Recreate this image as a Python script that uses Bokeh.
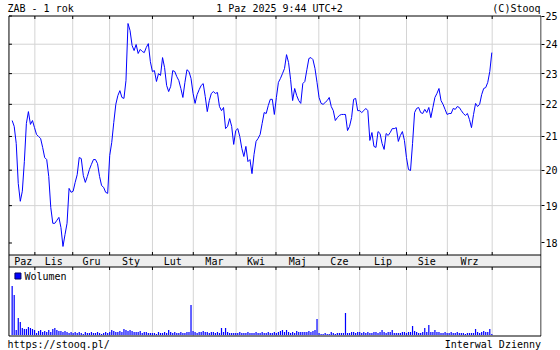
import math
from bokeh.plotting import figure
from bokeh.models import Range1d, LinearScale, FixedTicker, PrintfTickFormatter
from bokeh.core.properties import value
from bokeh.embed import file_html
from bokeh.resources import INLINE

# ---------------- data ----------------
close = [
    21.49, 21.31, 20.79, 19.62, 19.12, 19.40, 20.25, 21.40, 21.77, 21.37,
    21.49, 21.27, 21.06, 21.00, 20.94, 20.67, 20.37, 20.31, 19.82, 18.95,
    18.52, 18.52, 18.60, 18.68, 18.41, 17.91, 18.22, 18.52, 19.48, 19.37,
    19.40, 19.65, 19.87, 20.37, 20.34, 19.85, 19.65, 19.82, 20.02, 20.17,
    20.31, 20.31, 20.19, 19.82, 19.56, 19.51, 19.37, 19.34, 20.43, 20.82,
    21.43, 22.00, 22.28, 22.44, 22.22, 22.19, 22.77, 24.73, 24.48, 23.96,
    23.78, 23.99, 23.68, 23.82, 23.75, 23.71, 23.89, 24.02, 23.40, 23.07,
    23.10, 22.74, 23.00, 22.94, 23.54, 23.20, 22.61, 22.41, 22.58, 23.10,
    23.07, 22.90, 22.77, 22.51, 22.22, 22.71, 23.13, 23.07, 22.84, 22.35,
    22.03, 22.31, 22.47, 22.61, 22.67, 22.25, 21.77, 22.12, 22.35, 22.41,
    22.35, 22.38, 21.93, 21.80, 21.90, 21.24, 21.31, 21.55, 21.31, 20.76,
    21.18, 21.24, 21.00, 20.64, 20.40, 20.70, 20.25, 20.31, 19.90, 20.46,
    20.85, 20.94, 21.06, 21.40, 21.74, 21.71, 21.96, 22.16, 22.16, 21.68,
    22.22, 22.71, 22.84, 23.00, 23.17, 23.64, 23.37, 22.80, 22.12, 22.51,
    22.28, 22.12, 22.03, 22.67, 22.74, 23.13, 23.51, 23.54, 23.47, 23.17,
    22.71, 22.22, 22.03, 22.00, 22.06, 22.12, 22.22, 21.93, 21.80, 21.49,
    21.58, 21.65, 21.68, 21.68, 21.68, 21.18, 21.31, 21.58, 22.16, 22.19,
    21.80, 21.80, 21.74, 21.80, 21.87, 21.80, 20.88, 21.12, 20.70, 20.67,
    21.15, 21.09, 20.79, 20.61, 21.09, 21.03, 21.12, 21.24, 21.24, 21.27,
    20.85, 21.03, 21.15, 20.88, 20.37, 20.02, 19.99, 20.79, 21.74, 21.87,
    21.90, 21.74, 21.71, 21.84, 21.74, 21.90, 21.58, 21.90, 22.22, 22.35,
    22.51, 22.12, 22.00, 21.84, 21.68, 21.71, 21.71, 21.87, 21.84, 21.93,
    21.90, 21.80, 21.71, 21.65, 21.71, 21.52, 21.27, 21.68, 22.03, 21.93,
    22.00, 22.31, 22.51, 22.54, 22.71, 23.07, 23.71,
]

# volume, millions of shares (one per session)
volume = [
    24.5, 20.0, 2.5, 8.5, 6.5, 3.5, 3.0, 3.0, 4.0, 3.5, 3.0, 2.5,
    1.0, 2.0, 2.5, 1.5, 2.0, 1.5, 2.5, 1.5, 3.0, 3.5, 2.5, 2.0, 2.0, 1.5, 2.0, 1.5, 1.0, 1.5,
    1.0, 1.5, 1.0, 1.5, 1.0, 0.5, 1.5, 1.0, 1.0, 1.5, 1.0, 1.0, 1.5, 1.0, 0.5, 1.0, 1.5, 1.0,
    1.5, 2.5, 2.0, 1.5, 1.5, 2.0, 1.5, 3.0, 2.5, 2.0, 2.5, 2.0, 1.5, 1.5, 1.5, 2.0, 1.0, 1.5, 1.5, 1.0, 1.0,
    1.0, 1.0, 0.5, 1.5, 1.0, 1.0, 1.5, 1.0, 2.5, 1.5, 1.0, 1.5, 1.0, 1.0, 1.5, 1.0, 1.0, 1.5, 1.5, 15.0,
    2.0, 1.5, 1.0, 1.5, 1.5, 2.0, 1.5, 1.5, 1.0, 1.5, 1.5, 1.0, 1.5, 1.0, 3.5, 1.5, 3.5, 1.5, 1.0, 1.0, 1.0,
    1.0, 1.0, 1.5, 1.0, 1.0, 1.0, 1.5, 1.0, 1.0, 1.0, 1.5, 1.0, 1.0, 1.5, 1.0, 1.0, 1.5, 1.0, 1.0, 1.5,
    1.0, 1.5, 2.0, 2.5, 1.5, 2.5, 1.5, 1.0, 1.5, 1.0, 2.0, 1.5, 1.5, 1.5, 1.5, 1.5, 2.0, 1.5, 2.0, 2.5, 8.0,
    1.0, 0.5, 0.5, 1.0, 0.5, 0.5, 1.5, 1.0, 0.5, 1.0, 1.0, 1.0, 1.0, 11.0, 1.0, 1.0, 1.5, 1.5, 1.0, 1.5,
    1.5, 1.0, 1.5, 1.0, 1.5, 1.0, 1.0, 1.5, 1.5, 1.0, 1.5, 2.5, 1.5, 1.0, 1.5, 1.5, 2.5, 1.0, 1.0, 1.0, 1.0, 1.5, 1.5,
    1.0, 1.5, 1.5, 4.5, 2.0, 1.5, 1.0, 1.0, 1.5, 3.5, 1.5, 5.0, 1.5, 1.5, 2.5, 1.5, 1.5, 1.0, 1.0, 1.5,
    1.0, 1.0, 1.5, 1.0, 1.0, 1.5, 1.0, 1.0, 1.0, 0.5, 1.0, 1.0, 1.0, 1.0, 3.0, 1.5, 1.0, 1.5, 2.0, 1.5, 1.5, 3.0, 0.5,
]

month_names = ["Paz", "Lis", "Gru", "Sty", "Lut", "Mar", "Kwi", "Maj", "Cze", "Lip", "Sie", "Wrz"]
month_start = [0, 11, 30, 48, 69, 89, 110, 130, 151, 171, 194, 214, 236]   # session index of each month's first session
price_ticks = [18, 19, 20, 21, 22, 23, 24, 25]

title_left = "ZAB - 1 rok"
title_mid = "1 Paz 2025 9:44 UTC+2"
title_right = "(C)Stooq"
foot_left = "https://stooq.pl/"
foot_right = "Interwal Dzienny"
legend_label = "Wolumen"

# ---------------- layout constants ----------------
W, H = 560, 350
FRAME_R = 543                 # right edge of plotting frame (px)
X0_PX, DX_PX = 11.7, 2.04     # px of first session, px per session
TOP_PX, PX_PER_LN, P_TOP = 15.5, 691.0, 25.0
VOL_BASE_PX, VOL_PX_PER_UNIT = 334.5, 2.0
FONT = value("DejaVu Sans Mono")
FSIZE = value("10px")
BLUE = "#0000ff"
GRID = "#d4d4d4"


def xd(px):
    return (px - X0_PX) / DX_PX


def pd(py):
    return P_TOP * math.exp(-(py - TOP_PX) / PX_PER_LN)


def vd(py):
    return (VOL_BASE_PX - py) / VOL_PX_PER_UNIT


def snap(i):
    return math.floor(X0_PX + DX_PX * i) + 0.5


p = figure(width=W, height=H,
           x_range=Range1d(xd(0), xd(FRAME_R)),
           y_range=Range1d(pd(H), pd(0)),
           y_axis_type="log", x_axis_location=None, y_axis_location="right",
           output_backend="svg", toolbar_location=None,
           min_border_left=0, min_border_top=0, min_border_bottom=0,
           min_border_right=W - FRAME_R)
p.extra_y_ranges = {"vol": Range1d(vd(H), vd(0))}
p.extra_y_scales = {"vol": LinearScale()}
p.outline_line_color = None
p.background_fill_color = "white"
p.border_fill_color = "white"
p.grid.grid_line_color = None

ax = p.yaxis[0]
ax.ticker = FixedTicker(ticks=price_ticks, minor_ticks=[])
ax.formatter = PrintfTickFormatter(format="%d")
ax.axis_line_color = None
ax.major_tick_out = 3
ax.major_tick_in = 0
ax.minor_tick_line_color = None
ax.major_tick_line_color = "black"
ax.major_label_standoff = 1
ax.major_label_text_font = "DejaVu Sans Mono"
ax.major_label_text_font_size = "10px"
ax.major_label_text_color = "black"

L, R = xd(8.5), xd(542.5)

# month band
p.quad(left=[L], right=[R], top=[pd(254.5)], bottom=[pd(266.5)],
       fill_color="#eeeeee", line_color=None)

# grid: horizontal (price) and vertical (months)
inner = price_ticks[1:-1]
p.segment(x0=[L] * len(inner), x1=[R] * len(inner), y0=inner, y1=inner,
          line_color=GRID, line_width=1)
gx = [xd(snap(i)) for i in month_start[1:]]
p.segment(x0=gx, x1=gx, y0=[pd(15.5)] * len(gx), y1=[pd(254.5)] * len(gx),
          line_color=GRID, line_width=1)
p.segment(x0=gx, x1=gx, y0=[pd(266.5)] * len(gx), y1=[pd(335.5)] * len(gx),
          line_color=GRID, line_width=1)

# frame boxes
hy = [pd(15.5), pd(254.5), pd(266.5), pd(335.5)]
p.segment(x0=[L] * 4, x1=[R] * 4, y0=hy, y1=hy, line_color="black", line_width=1)
p.segment(x0=[L, R], x1=[L, R], y0=[pd(15.5)] * 2, y1=[pd(335.5)] * 2,
          line_color="black", line_width=1)

# month tick marks
n = len(gx)
p.segment(x0=gx, x1=gx, y0=[pd(15.5)] * n, y1=[pd(18.5)] * n, line_color="black")
p.segment(x0=gx, x1=gx, y0=[pd(251.5)] * n, y1=[pd(254.5)] * n, line_color="black")
p.segment(x0=gx, x1=gx, y0=[pd(266.5)] * n, y1=[pd(269.5)] * n, line_color="black")
# left inner price ticks
p.segment(x0=[L] * len(price_ticks), x1=[xd(11.5)] * len(price_ticks),
          y0=price_ticks, y1=price_ticks, line_color="black")

# month labels, centred in each month's span
mid = [(month_start[k] + month_start[k + 1]) / 2 for k in range(len(month_names))]
p.text(x=[xd(X0_PX + DX_PX * m) for m in mid], y=[pd(260.5)] * len(mid), text=month_names,
       text_font=FONT, text_font_size=FSIZE, text_align="center",
       text_baseline="middle", text_color="black")

# price line and volume bars
days = list(range(len(close)))
p.line(x=days, y=close, line_color=BLUE, line_width=1)
p.vbar(x=days, top=volume, bottom=0, width=0.6, fill_color=BLUE, line_color=None,
       y_range_name="vol")

# legend
p.quad(left=[xd(14.5)], right=[xd(20.5)], top=[pd(272.5)], bottom=[pd(278.5)],
       fill_color=BLUE, line_color="#000060")
p.text(x=[xd(24)], y=[pd(276)], text=[legend_label], text_font=FONT, text_font_size=FSIZE,
       text_align="left", text_baseline="middle", text_color="black")

# headers and footers
p.text(x=[xd(7)], y=[pd(7.5)], text=[title_left], text_font=FONT, text_font_size=FSIZE,
       text_align="left", text_baseline="middle", text_color="black")
p.text(x=[xd(280)], y=[pd(7.5)], text=[title_mid], text_font=FONT, text_font_size=FSIZE,
       text_align="center", text_baseline="middle", text_color="black")
p.text(x=[xd(542)], y=[pd(7.5)], text=[title_right], text_font=FONT, text_font_size=FSIZE,
       text_align="right", text_baseline="middle", text_color="black")
p.text(x=[xd(7)], y=[pd(344)], text=[foot_left], text_font=FONT, text_font_size=FSIZE,
       text_align="left", text_baseline="middle", text_color="black")
p.text(x=[xd(542.5)], y=[pd(344)], text=[foot_right], text_font=FONT, text_font_size=FSIZE,
       text_align="right", text_baseline="middle", text_color="black")

open("out.html", "w").write(file_html(p, INLINE))
